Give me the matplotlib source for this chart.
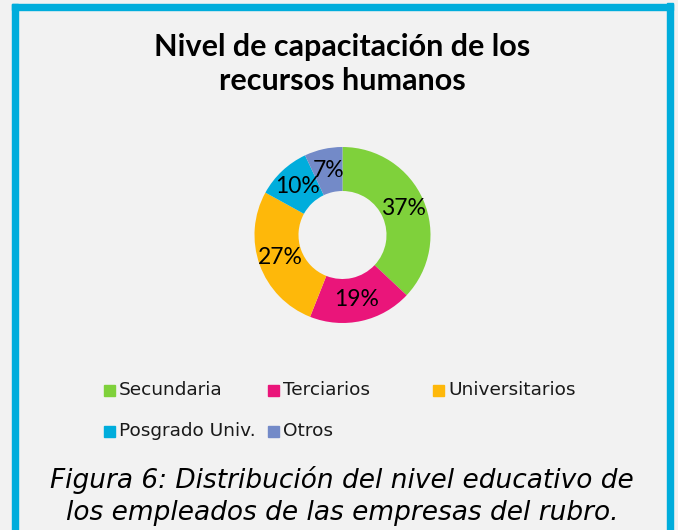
import matplotlib.pyplot as plt
from matplotlib.patches import Rectangle

categories = ['Secundaria', 'Terciarios', 'Universitarios', 'Posgrado Univ.', 'Otros']
shares = [37, 19, 27, 10, 7]
colors = ['#7FD13B', '#EA157A', '#FEB80A', '#00ADDC', '#738AC8']

title = 'Nivel de capacitación de los\nrecursos humanos'
caption = 'Figura 6: Distribución del nivel educativo de\nlos empleados de las empresas del rubro.'

W, H = 678, 530
bg = '#F2F2F2'
fig = plt.figure(figsize=(W / 100, H / 100), dpi=100, facecolor=bg)

# cyan frame (open at the bottom)
frame = dict(transform=fig.transFigure, color='#00ADDC', zorder=0)
fig.patches.append(Rectangle((12 / W, 0), 6 / W, 1 - 4 / H, **frame))
fig.patches.append(Rectangle((667 / W, 0), 6 / W, 1 - 3 / H, **frame))
fig.patches.append(Rectangle((12 / W, 1 - 10 / H), 661 / W, 6 / H, **frame))

fig.text(342 / W, 1 - 64 / H, title, ha='center', va='center', fontsize=22,
         fontweight='bold', family='Lato', linespacing=1.3)

# donut
cx, cy, r = 342.5, 235, 88
ax = fig.add_axes([(cx - r) / W, (H - cy - r) / H, 2 * r / W, 2 * r / H])
ax.set_facecolor(bg)
wedges, texts, autotexts = ax.pie(shares, colors=colors, startangle=90, counterclock=False,
                                  radius=1, autopct='%d%%', pctdistance=0.75,
                                  wedgeprops=dict(width=0.5, linewidth=0),
                                  textprops=dict(fontsize=16.5, family='Lato', color='black'))
ax.set_xlim(-1, 1)
ax.set_ylim(-1, 1)
ax.set_aspect('equal')
ax.axis('off')

# legend laid out in equal-width columns
col_x = [104, 268, 433]
row_y = [390, 431]
for i, (name, c) in enumerate(zip(categories, colors)):
    x = col_x[i % 3]
    y = row_y[i // 3]
    fig.patches.append(Rectangle((x / W, 1 - (y + 5.5) / H), 11 / W, 11 / H,
                                 transform=fig.transFigure, color=c))
    fig.text((x + 15) / W, 1 - y / H, name, ha='left', va='center',
             fontsize=13.3, family='DejaVu Sans', color='#1a1a1a')

fig.text(342 / W, 1 - 496 / H, caption, ha='center', va='center', fontsize=19,
         style='italic', family='DejaVu Sans', linespacing=1.32)

fig.savefig('out.png', dpi=100, facecolor=bg)
